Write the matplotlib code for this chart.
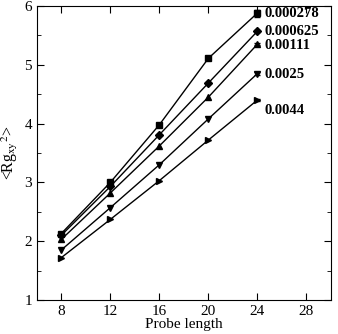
import numpy as np
import matplotlib.pyplot as plt

plt.rcParams['font.family'] = ['Liberation Serif', 'DejaVu Serif']
plt.rcParams['mathtext.fontset'] = 'stix'

probe = [8, 12, 16, 20, 24]
labels = ["0.000278", "0.000625", "0.00111", "0.0025", "0.0044"]
rg = [
    [2.13, 3.00, 3.98, 5.11, 5.88],
    [2.10, 2.93, 3.81, 4.69, 5.57],
    [2.03, 2.82, 3.62, 4.45, 5.35],
    [1.85, 2.57, 3.30, 4.08, 4.85],
    [1.72, 2.37, 3.03, 3.72, 4.40],
]
err_last = [0.06, 0.02, 0.02, 0.02, 0.02]
markers = ["s", "D", "^", "v", ">"]
label_y = [5.88, 5.57, 5.33, 4.84, 4.22]

fig = plt.figure(figsize=(3.38, 3.34), dpi=100)
ax = fig.add_axes([0.109, 0.102, 0.87, 0.88])

for vals, m, lab, ly, e in zip(rg, markers, labels, label_y, err_last):
    ms = 4 if m == "D" else 5
    ax.plot(probe, vals, color="black", lw=1, marker=m, ms=ms)
    ax.errorbar([probe[-1]], [vals[-1]], yerr=e, color="black", capsize=2, lw=0.8)
    ax.text(24.6, ly, lab, fontsize=10.5, fontweight="bold", va="center", ha="left")

ax.set_xlim(6, 30)
ax.set_ylim(1, 6)
ax.set_xticks([8, 12, 16, 20, 24, 28])
ax.set_yticks([1, 2, 3, 4, 5, 6])
ax.set_yticks(np.arange(1.5, 6, 1), minor=True)
ax.tick_params(direction="in", top=True, right=True, labelsize=11, length=5)
ax.tick_params(which="minor", direction="in", right=True, length=3)
ax.set_xlabel("Probe length", fontsize=11, labelpad=0)
ax.set_ylabel(r"<Rg$_{\mathrm{xy}}$$^{2}$>", fontsize=11.5)
ax.yaxis.set_label_coords(-0.058, 0.5)

fig.savefig("out.png", dpi=100)
